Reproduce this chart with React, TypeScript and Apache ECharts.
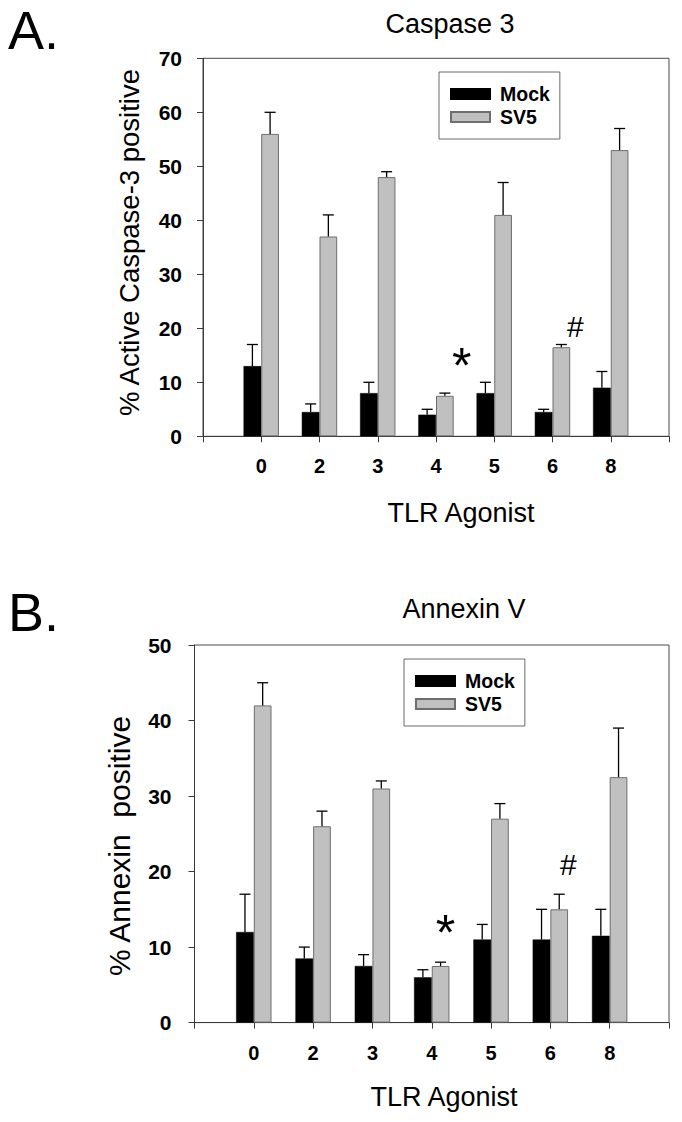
import React, { useEffect, useRef } from "react";
import * as echarts from "echarts";

const FONT = "'Liberation Sans', Arial, Helvetica, sans-serif";

// ---- data ----
const categories = ["0", "2", "3", "4", "5", "6", "8"];
const seriesNames = ["Mock", "SV5"];

// Panel A: Caspase 3 (% active caspase-3 positive), upper error (SEM)
const caspMock = [13, 4.5, 8, 4, 8, 4.5, 9];
const caspMockErr = [4, 1.5, 2, 1, 2, 0.5, 3];
const caspSV5 = [56, 37, 48, 7.5, 41, 16.5, 53];
const caspSV5Err = [4, 4, 1, 0.5, 6, 0.5, 4];

// Panel B: Annexin V (% annexin positive)
const annexMock = [12, 8.5, 7.5, 6, 11, 11, 11.5];
const annexMockErr = [5, 1.5, 1.5, 1, 2, 4, 3.5];
const annexSV5 = [42, 26, 31, 7.5, 27, 15, 32.5];
const annexSV5Err = [3, 2, 1, 0.5, 2, 2, 6.5];

const yTicksA = { min: 0, max: 70, interval: 10 };
const yTicksB = { min: 0, max: 50, interval: 10 };

// significance marks (category, value anchor, text)
const caspNotes = [
  { cat: "4", y: 13.0, text: "*" },
  { cat: "6", y: 20.4, text: "#" },
];
const annexNotes = [
  { cat: "4", y: 11.8, text: "*" },
  { cat: "6", y: 20.9, text: "#" },
];

// ---- styling ----
const BAR_W = 17.7;
const HALF = BAR_W / 2;
const AXIS_COLOR = "#3a3a3a";
const axisCats = ["", ...categories, ""];
const pad = (a: number[]) => [null, ...a, null];

function errSeries(vals: number[], errs: number[], side: number, gi: number) {
  return {
    type: "custom",
    name: "err" + gi + side,
    xAxisIndex: gi,
    yAxisIndex: gi,
    silent: true,
    z: 5,
    data: vals.map((v, i) => [categories[i], v, v + errs[i]]),
    encode: { x: 0, y: [1, 2] },
    renderItem: (params: any, api: any) => {
      const x = api.value(0);
      const v = api.value(1);
      const t = api.value(2);
      const b = api.coord([x, v]);
      const tp = api.coord([x, t]);
      const cx = b[0] + side * HALF;
      const st = { stroke: "#000", lineWidth: 1.3 };
      return {
        type: "group",
        children: [
          { type: "line", shape: { x1: cx, y1: b[1], x2: cx, y2: tp[1] }, style: st },
          { type: "line", shape: { x1: cx - 5.5, y1: tp[1], x2: cx + 5.5, y2: tp[1] }, style: st },
        ],
      };
    },
  };
}

function notesMarkPoint(notes: { cat: string; y: number; text: string }[], offsets: number[]) {
  return {
    symbol: "circle",
    symbolSize: 1,
    silent: true,
    itemStyle: { color: "rgba(0,0,0,0)" },
    data: notes.map((n, i) => ({
      coord: [n.cat, n.y],
      label: {
        show: true,
        position: "inside",
        formatter: n.text,
        color: "#000",
        fontFamily: FONT,
        fontSize: n.text === "*" ? 50 : 30,
        fontWeight: "normal",
        offset: [offsets[i], 0],
      },
    })),
  };
}

function barSeries(name: string, vals: number[], gi: number, extra: any = {}) {
  const isMock = name === "Mock";
  return {
    type: "bar",
    name,
    xAxisIndex: gi,
    yAxisIndex: gi,
    data: pad(vals),
    barWidth: BAR_W,
    barGap: "0%",
    silent: true,
    itemStyle: isMock
      ? { color: "#000", borderColor: "#000", borderWidth: 0.5 }
      : { color: "#c0c0c0", borderColor: "#6e6e6e", borderWidth: 1 },
    ...extra,
  };
}

function xAxis(gi: number) {
  return {
    gridIndex: gi,
    type: "category",
    data: axisCats,
    boundaryGap: false,
    axisLine: { show: true, lineStyle: { color: AXIS_COLOR, width: 1 } },
    axisTick: { show: true, inside: false, length: 6, interval: 0, lineStyle: { color: AXIS_COLOR } },
    axisLabel: {
      interval: 0,
      margin: 20,
      fontSize: 20,
      fontWeight: "bold",
      color: "#000",
      fontFamily: FONT,
    },
    splitLine: { show: false },
  };
}

function yAxis(gi: number, t: { min: number; max: number; interval: number }, margin: number) {
  return {
    gridIndex: gi,
    type: "value",
    min: t.min,
    max: t.max,
    interval: t.interval,
    axisLine: { show: true, lineStyle: { color: AXIS_COLOR, width: 1 } },
    axisTick: { show: true, inside: false, length: 6, lineStyle: { color: AXIS_COLOR } },
    axisLabel: { margin, fontSize: 21, fontWeight: "bold", color: "#000", fontFamily: FONT },
    splitLine: { show: false },
  };
}

function legend(left: number, top: number) {
  return {
    data: seriesNames,
    left,
    top,
    orient: "vertical",
    icon: "rect",
    itemWidth: 39,
    itemHeight: 10,
    itemGap: 3,
    padding: [12, 10, 12, 11],
    borderColor: "#6a6a6a",
    borderWidth: 1,
    backgroundColor: "#fff",
    selectedMode: false,
    textStyle: { fontSize: 19.5, fontWeight: "bold", color: "#000", fontFamily: FONT, padding: [0, 0, 0, 5] },
  };
}

function txt(text: string, x: number, y: number, size: number, extra: any = {}) {
  return {
    type: "text",
    x,
    y,
    silent: true,
    ...extra,
    style: {
      text,
      fontSize: size,
      fontFamily: FONT,
      fill: "#000",
      textAlign: extra.align || "center",
      textVerticalAlign: "middle",
    },
  };
}

export default function App() {
  const ref = useRef<HTMLDivElement>(null);
  useEffect(() => {
    if (!ref.current) return;
    const chart = echarts.init(ref.current, undefined, { renderer: "svg" });
    const gridBase = {
      show: true,
      borderColor: "#4a4a4a",
      borderWidth: 1,
      backgroundColor: "rgba(0,0,0,0)",
      containLabel: false,
      outerBoundsMode: "none",
    };
    chart.setOption({
      animation: false,
      backgroundColor: "#fff",
      grid: [
        { ...gridBase, left: 203, top: 58.3, width: 466, height: 378 },
        { ...gridBase, left: 194.5, top: 645, width: 474.5, height: 377.6 },
      ],
      xAxis: [xAxis(0), xAxis(1)],
      yAxis: [yAxis(0, yTicksA, 21), yAxis(1, yTicksB, 23)],
      legend: [legend(439, 72), legend(404, 659)],
      series: [
        barSeries("Mock", caspMock, 0),
        barSeries("SV5", caspSV5, 0, { markPoint: notesMarkPoint(caspNotes, [17, 14]) }),
        errSeries(caspMock, caspMockErr, -1, 0),
        errSeries(caspSV5, caspSV5Err, 1, 0),
        barSeries("Mock", annexMock, 1),
        barSeries("SV5", annexSV5, 1, { markPoint: notesMarkPoint(annexNotes, [5, 9]) }),
        errSeries(annexMock, annexMockErr, -1, 1),
        errSeries(annexSV5, annexSV5Err, 1, 1),
      ],
      graphic: [
        txt("A.", 8, 30, 54, { align: "left" }),
        txt("B.", 8, 612, 54, { align: "left" }),
        txt("Caspase 3", 450, 24, 27),
        txt("Annexin V", 464, 609, 27),
        txt("TLR Agonist", 461, 512.5, 27),
        txt("TLR Agonist", 444, 1097, 27),
        txt("% Active Caspase-3 positive", 129, 242.5, 27.5, { rotation: Math.PI / 2 }),
        txt("% Annexin  positive", 119, 846, 30, { rotation: Math.PI / 2 }),
      ],
    });
    return () => chart.dispose();
  }, []);
  return (
    <div
      ref={ref}
      style={{ position: "absolute", left: 0, top: 0, width: 682, height: 1122, background: "#fff" }}
    />
  );
}
